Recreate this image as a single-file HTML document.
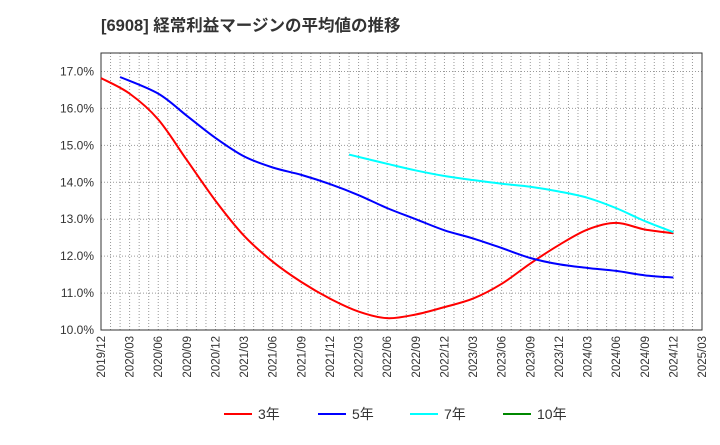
<!DOCTYPE html>
<html><head><meta charset="utf-8"><style>
body{margin:0;background:#fff;font-family:"Liberation Sans","Noto Sans CJK JP",sans-serif;}
</style></head><body>
<svg id="c" width="720" height="440" xmlns="http://www.w3.org/2000/svg">
<text x="101" y="31" font-size="16.5" font-weight="bold" fill="#333">[6908]  経常利益マージンの平均値の推移</text>
<g id="grid"></g><g id="axes"></g><g id="series"></g><g id="legend"></g>
</svg>
<script>
const xLabels=["2019/12","2020/03","2020/06","2020/09","2020/12","2021/03","2021/06","2021/09","2021/12","2022/03","2022/06","2022/09","2022/12","2023/03","2023/06","2023/09","2023/12","2024/03","2024/06","2024/09","2024/12","2025/03"];
const yTicks=[10,11,12,13,14,15,16,17];
const s3=[16.82,16.4,15.7,14.6,13.5,12.55,11.85,11.3,10.85,10.5,10.32,10.42,10.62,10.85,11.25,11.8,12.3,12.72,12.9,12.72,12.62];
const s5=[null,16.85,16.4,15.8,15.2,14.7,14.4,14.2,13.95,13.65,13.3,13.0,12.7,12.48,12.22,11.95,11.78,11.68,11.6,11.48,11.42];
const s7=[null,null,null,null,null,null,null,null,null,14.75,14.5,14.32,14.17,14.06,13.96,13.88,13.75,13.58,13.3,12.95,12.65];
const s10=[];
const L=101,R=702,T=53,B=330;
const NS="http://www.w3.org/2000/svg";
const xs=q=>L+(R-L)*q/(xLabels.length-1);
const xm=m=>L+(R-L)*m/((xLabels.length-1)*3);
const ys=v=>B-(v-10)*(B-T)/7.5;
function mk(tag,at,par){const e=document.createElementNS(NS,tag);for(const k in at)e.setAttribute(k,at[k]);document.getElementById(par).appendChild(e);return e;}
for(let m=1;m<(xLabels.length-1)*3;m++){const l=mk('line',{x1:xm(m),x2:xm(m),y1:T,y2:B,stroke:'#999','stroke-dasharray':'1,2','stroke-width':1},'grid');

}
yTicks.forEach(v=>{const l=mk('line',{x1:L,x2:R,y1:ys(v),y2:ys(v),stroke:'#999','stroke-dasharray':'1,2'},'grid');


const t=mk('text',{x:L-7,y:ys(v)+4,'text-anchor':'end','font-size':12,fill:'#333'},'axes');t.textContent=v.toFixed(1)+'%';

});
const fr=mk('rect',{x:L,y:T,width:R-L,height:B-T,fill:'none',stroke:'#333'},'axes');


xLabels.forEach((s,i)=>{const x=xs(i)+4,y=B+6;const t=mk('text',{x:x,y:y,transform:`rotate(-90 ${x} ${y})`,'text-anchor':'end','font-size':11.5,fill:'#333'},'axes');t.textContent=s;

});
function path(arr,firstShift){const p=[];arr.forEach((v,i)=>{if(v!=null)p.push([xs(i),ys(v)]);});if(p.length<2)return '';
p[0][0]-=firstShift*(R-L)/((xLabels.length-1)*3);
let d=`M${p[0][0]},${p[0][1]}`;for(let i=0;i<p.length-1;i++){const a=p[Math.max(i-1,0)],b=p[i],c=p[i+1],e=p[Math.min(i+2,p.length-1)];
d+=` C${b[0]+(c[0]-a[0])/6},${b[1]+(c[1]-a[1])/6} ${c[0]-(e[0]-b[0])/6},${c[1]-(e[1]-b[1])/6} ${c[0]},${c[1]}`;}return d;}
const ser=[[s3,'#f00','3年','series-3yr',0],[s5,'#00f','5年','series-5yr',1],[s7,'#0ff','7年','series-7yr',1],[s10,'#080','10年','series-10yr',0]];
const lx=[224,318,410,503];
ser.forEach((s,k)=>{const d=path(s[0],s[4]);if(d){const p=mk('path',{d:d,fill:'none',stroke:s[1],'stroke-width':2},'series');

}
const l=mk('line',{x1:lx[k],x2:lx[k]+28,y1:414,y2:414,stroke:s[1],'stroke-width':2},'legend');


const t=mk('text',{x:lx[k]+34,y:419,'font-size':14,fill:'#333'},'legend');t.textContent=s[2];

});
</script>
</body></html>
